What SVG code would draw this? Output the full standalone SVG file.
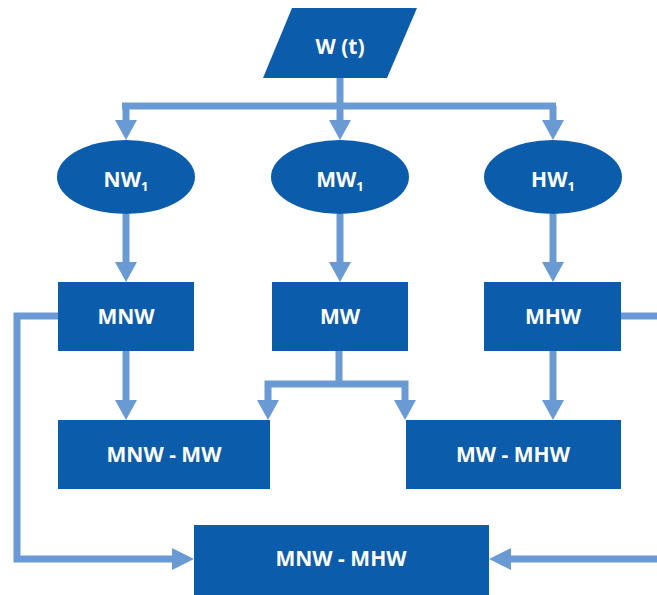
<svg xmlns="http://www.w3.org/2000/svg" width="657" height="595" viewBox="0 0 657 595">
  <style>
    .shape { fill: #0B5CAA; }
    .label { fill: #FFFFFF; font-family: "Open Sans", "Noto Sans", sans-serif; font-weight: bold; font-size: 21px; text-anchor: middle; }
    .sub { font-size: 13px; }
    .wire { fill: none; stroke: #6A9AD3; stroke-width: 7; stroke-linejoin: miter; }
    .head { fill: #6A9AD3; }
  </style>
  <defs>
    <!-- arrowhead pointing down, tip at origin -->
    <polygon id="tipDown" class="head" points="-11,-20 11,-20 0,0"/>
  </defs>
  <rect width="657" height="595" fill="#FFFFFF"/>

  <!-- connectors -->
  <g id="connectors">
    <!-- input split -->
    <path class="wire" d="M340,78 V122"/>
    <path class="wire" d="M122,106 H556"/>
    <path class="wire" d="M126,106 V122"/>
    <path class="wire" d="M553,106 V122"/>
    <use href="#tipDown" x="126" y="140"/>
    <use href="#tipDown" x="340" y="140"/>
    <use href="#tipDown" x="553" y="140"/>

    <!-- ellipses to boxes -->
    <path class="wire" d="M126,214 V264"/>
    <path class="wire" d="M340,214 V264"/>
    <path class="wire" d="M553,214 V264"/>
    <use href="#tipDown" x="126" y="282"/>
    <use href="#tipDown" x="340" y="282"/>
    <use href="#tipDown" x="553" y="282"/>

    <!-- MNW to MNW - MW -->
    <path class="wire" d="M126,351 V402"/>
    <use href="#tipDown" x="126" y="420"/>

    <!-- MW split -->
    <path class="wire" d="M339,351 V384 M268,402 V384 H405 V402"/>
    <use href="#tipDown" x="268" y="420"/>
    <use href="#tipDown" x="405" y="420"/>

    <!-- MHW to MW - MHW -->
    <path class="wire" d="M553,351 V402"/>
    <use href="#tipDown" x="553" y="420"/>

    <!-- outer loops to MNW - MHW (right loop runs just past the page edge) -->
    <path class="wire" d="M58,316 H17 V559 H174"/>
    <polygon class="head" points="194,559 172,548 172,570"/>
    <path class="wire" d="M621,316 H662 V559 H509"/>
    <polygon class="head" points="489,559 511,548 511,570"/>
  </g>

  <g id="input">
    <polygon class="shape" points="292,8 417,8 387,78 263,78"/>
    <text class="label" x="340" y="54">W (t)</text>
  </g>

  <g id="nw1">
    <ellipse class="shape" cx="126" cy="177" rx="69" ry="37"/>
    <text class="label" x="126" y="187">NW<tspan class="sub" dy="4">1</tspan></text>
  </g>
  <g id="mw1">
    <ellipse class="shape" cx="340" cy="177" rx="69" ry="37"/>
    <text class="label" x="340" y="187">MW<tspan class="sub" dy="4">1</tspan></text>
  </g>
  <g id="hw1">
    <ellipse class="shape" cx="553" cy="177" rx="69" ry="37"/>
    <text class="label" x="553" y="187">HW<tspan class="sub" dy="4">1</tspan></text>
  </g>

  <g id="mnw">
    <rect class="shape" x="58" y="282" width="136" height="69"/>
    <text class="label" x="126" y="324">MNW</text>
  </g>
  <g id="mw">
    <rect class="shape" x="272" y="282" width="136" height="69"/>
    <text class="label" x="340" y="324">MW</text>
  </g>
  <g id="mhw">
    <rect class="shape" x="484" y="282" width="137" height="69"/>
    <text class="label" x="553" y="324">MHW</text>
  </g>

  <g id="mnw-mw">
    <rect class="shape" x="58" y="420" width="212" height="69"/>
    <text class="label" x="164" y="462">MNW - MW</text>
  </g>
  <g id="mw-mhw">
    <rect class="shape" x="406" y="420" width="215" height="69"/>
    <text class="label" x="513" y="462">MW - MHW</text>
  </g>

  <g id="mnw-mhw">
    <rect class="shape" x="194" y="525" width="295" height="75"/>
    <text class="label" x="341" y="566">MNW - MHW</text>
  </g>
</svg>
